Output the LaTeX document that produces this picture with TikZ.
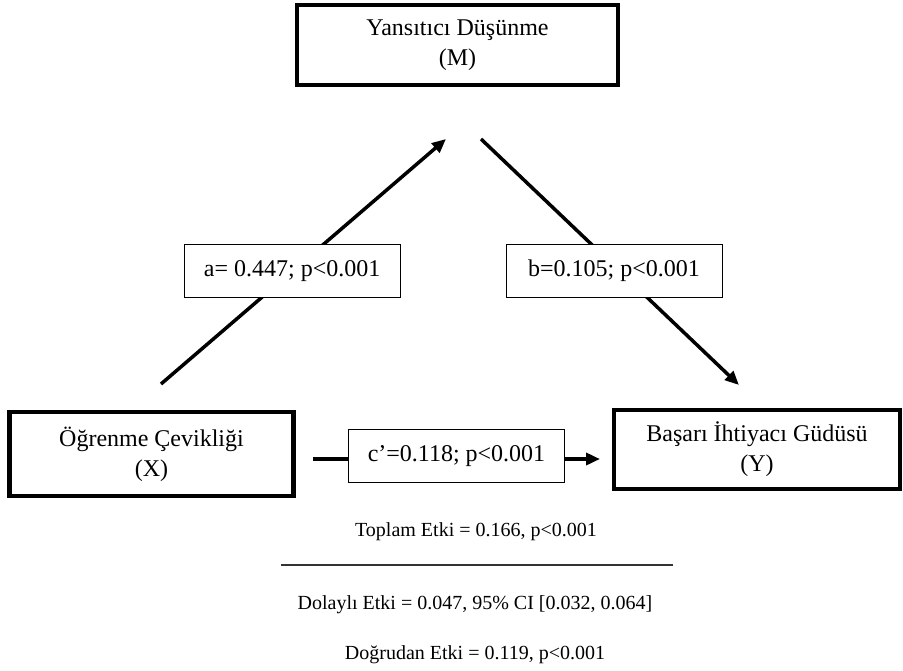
\documentclass[tikz,border=0pt]{standalone}
\usepackage{fontspec}
\setmainfont{Liberation Serif}
\usetikzlibrary{arrows.meta,positioning}
\tikzstyle{var}=[align=center, draw=black, line width=4.5pt,
        font=\fontsize{24}{30}\selectfont]
\tikzstyle{coef}=[fill=white, draw=black, line width=1pt, inner sep=0pt,
        font=\fontsize{24}{28}\selectfont, minimum width=216pt, minimum height=53pt]
\tikzstyle{link}=[line width=3.5pt, -{Triangle[length=14pt, width=12pt]}]
\tikzstyle{note}=[font=\fontsize{20}{24}\selectfont]

\begin{document}
\begin{tikzpicture}[x=1pt, y=-1pt]
        \useasboundingbox (0,0) rectangle (903,670);

        \node[var, minimum width=284pt, minimum height=84pt] (X) at (151.5,454)
            {Öğrenme Çevikliği\\(X)};

        \node[var, minimum width=321pt, minimum height=80pt] (M) at (457.5,45)
            {Yansıtıcı Düşünme\\(M)};

        \node[var, minimum width=286pt, minimum height=79pt] (Y) at (757,449.5)
            {Başarı İhtiyacı Güdüsü\\(Y)};

        % free ends of the three paths
        \coordinate (aS) at (161,384);
        \coordinate (aE) at (446,139);
        \coordinate (bS) at (481,139);
        \coordinate (bE) at (739,385);
        \coordinate (cS) at (313,459);
        \coordinate (cE) at (600,459);

        \draw[link] (aS) to node[coef, pos=0.46] (a) {a= 0.447; p<0.001} (aE);
        \draw[link] (bS) to node[coef, pos=0.535, xshift=-5pt] (b) {b=0.105; p<0.001} (bE);
        \draw[link] (cS) to node[coef, pos=0.50, yshift=3pt] (c) {c’=0.118; p<0.001} (cE);

        \node[note] (tot) at (476,532) {Toplam Etki = 0.166, p<0.001};
        \draw[line width=1.5pt, black!80] (281,565) -- (673,565);
        \node[note] (ind) at (475,605) {Dolaylı Etki = 0.047, 95\% CI [0.032, 0.064]};
        \node[note] (dir) at (475,655) {Doğrudan Etki = 0.119, p<0.001};

    \end{tikzpicture}
\end{document}
